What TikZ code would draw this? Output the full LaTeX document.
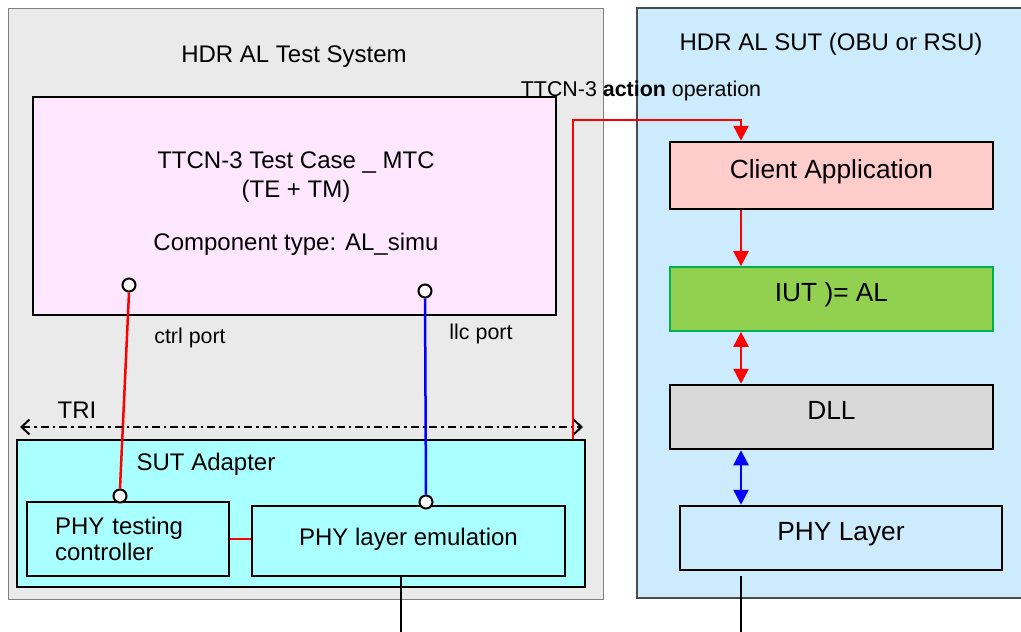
\documentclass[tikz,border=0pt]{standalone}
\usepackage{fontspec}
\setmainfont{Liberation Sans}
\usetikzlibrary{arrows.meta}
\usetikzlibrary{calc}
\definecolor{tsgray}{RGB}{234,234,234}
\definecolor{sutblue}{RGB}{204,235,252}
\definecolor{mtcpink}{RGB}{255,232,255}
\definecolor{adaptcyan}{RGB}{170,255,255}
\definecolor{clientred}{RGB}{255,204,204}
\definecolor{iutgreen}{RGB}{146,208,80}
\definecolor{iutborder}{RGB}{0,176,80}
\definecolor{dllgray}{RGB}{217,217,217}
\newcommand\bigtext{\fontsize{24}{26}\selectfont}
\newcommand\boxtext{\fontsize{26.3}{31}\selectfont}
\newcommand\smalltext{\fontsize{21.4}{26}\selectfont}

\begin{document}
\begin{tikzpicture}[x=1pt, y=-1pt,
    box/.style={draw=black, line width=2.5pt, inner sep=0pt, font=\boxtext, text height=20pt, text depth=15pt},
    txt/.style={inner sep=0pt, anchor=base, font=\bigtext},
    port/.style={circle, draw=black, fill=white, line width=2pt, inner sep=0pt, minimum size=13pt},
    redline/.style={red, line width=2.5pt},
    blueline/.style={blue, line width=2.5pt},
    redarrow/.style={redline, -{Triangle[length=15pt,width=15pt]}},
    reddouble/.style={redline, {Triangle[length=15pt,width=15pt]}-{Triangle[length=15pt,width=15pt]}},
    bluedouble/.style={blueline, {Triangle[length=15pt,width=15pt]}-{Triangle[length=15pt,width=15pt]}}]
    \useasboundingbox (0, 0) rectangle (1021, 632);
    %% test system and SUT
    \draw (305.5, 303.5) node[fill=tsgray, draw=gray, line width=1pt, minimum width=595pt, minimum height=591pt](tsys){} ;
    \draw (833.5, 303) node[fill=sutblue, draw=black!70, line width=1.2pt, minimum width=393pt, minimum height=590pt](sut){} ;
    \draw (294, 62) node[txt](tsystitle){HDR AL Test System} ;
    \draw (831, 50) node[txt](suttitle){HDR AL SUT (OBU or RSU)} ;
    %% MTC
    \draw (294.5, 206) node[box, fill=mtcpink, minimum width=523pt, minimum height=218pt](mtc){} ;
    \draw (296, 168) node[txt](mtcname){TTCN-3 Test Case \_ MTC} ;
    \draw (296, 197) node[txt](mtcrole){(TE + TM)} ;
    \draw (296, 250) node[txt](mtctype){Component type: AL\_simu} ;
    \draw (129, 285) node[port](ctrlport){} ;
    \draw (425, 291) node[port](llcport){} ;
    \draw (190, 343) node[txt, font=\smalltext](ctrllabel){ctrl port} ;
    \draw (481, 339) node[txt, font=\smalltext](llclabel){llc port} ;
    %% SUT adapter
    \draw (301, 513.5) node[box, fill=adaptcyan, minimum width=568pt, minimum height=147pt](adapter){} ;
    \draw (206, 470) node[txt](adaptlabel){SUT Adapter} ;
    \draw (128, 539) node[box, fill=adaptcyan, font=\bigtext, text height=, text depth=, align=left, text width=146pt,
        minimum width=202pt, minimum height=74pt](phyctrl){PHY testing\\controller} ;
    \draw (408.5, 541) node[box, fill=adaptcyan, font=\bigtext, text height=18pt, text depth=10pt,
        minimum width=313pt, minimum height=70pt](phyemu){PHY layer emulation} ;
    \draw (120, 496) node[port](ctrlsap){} ;
    \draw (426, 502) node[port](llcsap){} ;
    %% -- ports down to the adapter
    \draw[redline] (ctrlport.south) -- (ctrlsap.north) ;
    \draw[blueline] (llcport.south) -- (llcsap.north) ;
    \draw[redline] (phyctrl.east) -- (phyctrl.east -| phyemu.west) ;
    \coordinate (emuout) at (401, 640) ;
    \draw[line width=2.5pt] (phyemu.south -| emuout) -- (emuout) ;
    %% TRI
    \coordinate (trileft) at (20, 427) ;
    \coordinate (triright) at (583, 427) ;
    \draw[line width=2pt, dash pattern=on 8pt off 4pt on 2.5pt off 4pt,
        {Straight Barb[length=8pt,width=15pt]}-{Straight Barb[length=8pt,width=15pt]}] (trileft) -- (triright) ;
    \draw (77, 418) node[txt](trilabel){TRI} ;
    %% SUT layers
    \draw (831.5, 175.5) node[box, fill=clientred, minimum width=323pt, minimum height=67pt](client){Client Application} ;
    \draw (831.5, 299) node[box, line width=1.8pt, draw=iutborder, fill=iutgreen, minimum width=323pt, minimum height=64pt](iut){IUT )= AL} ;
    \draw (831.5, 417) node[box, fill=dllgray, minimum width=323pt, minimum height=64pt](dll){DLL} ;
    \draw (841, 538) node[box, fill=sutblue, minimum width=322pt, minimum height=64pt](phy){PHY Layer} ;
    \coordinate (lane) at (741, 0) ;
    \draw[redarrow] (client.south -| lane) -- (iut.north -| lane) ;
    \draw[reddouble] (iut.south -| lane) -- (dll.north -| lane) ;
    \draw[bluedouble] (dll.south -| lane) -- (phy.north -| lane) ;
    \coordinate (phyout) at (741, 640) ;
    \draw[line width=2.5pt, shorten <=5pt] (phy.south -| phyout) -- (phyout) ;
    %% action operation
    \coordinate (act) at (573, 120) ;
    \draw[redarrow] (adapter.north -| act) -- (act) -| (client.north -| lane) ;
    \draw (641, 96) node[txt, font=\smalltext](actlabel){TTCN-3 \textbf{action} operation} ;
\end{tikzpicture}
\end{document}
